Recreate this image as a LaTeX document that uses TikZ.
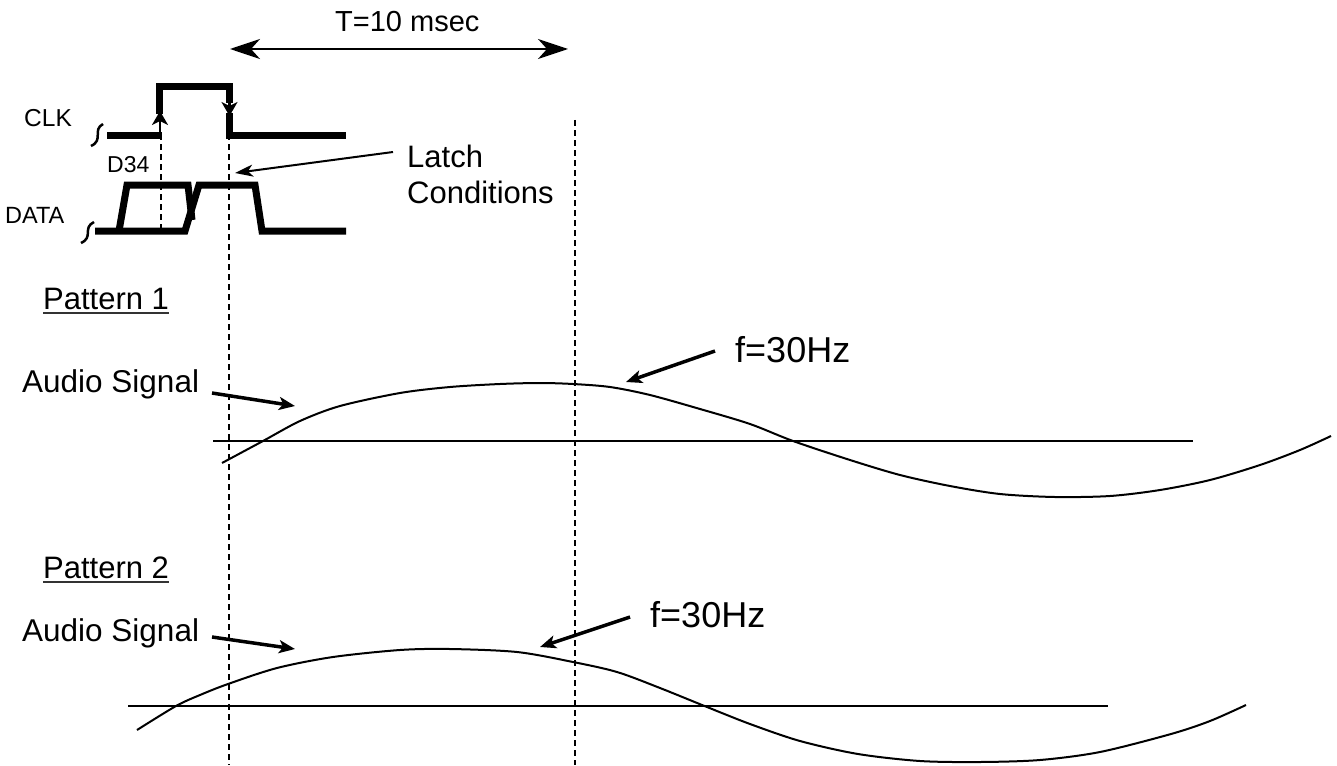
\documentclass[tikz,border=0pt]{standalone}
\usepackage{fontspec}
\setmainfont{Liberation Sans}
\usetikzlibrary{arrows.meta}
\begin{document}
\begin{tikzpicture}[x=1pt,y=-1pt,
  lbl/.style={inner sep=0pt,anchor=base west},
  clkline/.style={line width=7pt},
  dataline/.style={line width=7pt},
  squig/.style={line width=2.5pt},
  edgearr/.style={line width=2.5pt,-{Stealth[length=14pt,width=16pt,inset=4pt]}},
  guide/.style={line width=1.3pt,dash pattern=on 6pt off 4pt},
  tarr/.style={line width=2pt,{Stealth[length=30pt,width=20pt,inset=9pt]}-{Stealth[length=30pt,width=20pt,inset=9pt]}},
  thinarr/.style={line width=2pt,-{Stealth[length=18pt,width=12pt,inset=5pt]}},
  bigarr/.style={line width=3.5pt,-{Stealth[length=16pt,width=13pt,inset=4pt]}},
  axisline/.style={line width=2pt},
  wave/.style={line width=2pt},
  underl/.style={line width=1.5pt,black!80}
]
\useasboundingbox (0,0) rectangle (1337,765);

% ---- labels ----
\node[lbl,font=\fontsize{29}{34}\selectfont] (T) at (335,32) {T=10 msec};
\node[lbl,font=\fontsize{24.5}{28}\selectfont] (clk) at (24,126) {CLK};
\node[lbl,font=\fontsize{23}{26}\selectfont] (d34) at (107,172) {D34};
\node[lbl,font=\fontsize{23.5}{28}\selectfont] (data) at (5,223) {DATA};
\node[inner sep=0pt,anchor=north west,align=left,font=\fontsize{31}{36}\selectfont] (latch) at (407,145) {Latch\\Conditions};
\node[lbl,font=\fontsize{31}{36}\selectfont] (p1) at (43,309) {Pattern 1};
\node[lbl,font=\fontsize{31.5}{36}\selectfont] (a1) at (22,392) {Audio Signal};
\node[lbl,font=\fontsize{36}{40}\selectfont] (f1) at (735,362) {f=30Hz};
\node[lbl,font=\fontsize{31}{36}\selectfont] (p2) at (43,578) {Pattern 2};
\node[lbl,font=\fontsize{31.5}{36}\selectfont] (a2) at (22,641) {Audio Signal};
\node[lbl,font=\fontsize{36}{40}\selectfont] (f2) at (650,627) {f=30Hz};

\draw[underl] ([yshift=-4pt]p1.base west) -- ([yshift=-4pt]p1.base east);
\draw[underl] ([yshift=-4pt]p2.base west) -- ([yshift=-4pt]p2.base east);

% ---- coordinates for arrow ends ----
\coordinate (tl) at (230,49);
\coordinate (tr) at (568,49);
\coordinate (latchfrom) at (393,152);
\coordinate (latchtip) at (235,173);
\coordinate (a1from) at (212,393);
\coordinate (a1tip) at (295,406);
\coordinate (a2from) at (212,637);
\coordinate (a2tip) at (295,649);
\coordinate (f1from) at (715,351);
\coordinate (f1tip) at (626,382);
\coordinate (f2from) at (630,617);
\coordinate (f2tip) at (540,647);

% ---- dashed guides ----
\coordinate (g1t) at (161,134); \coordinate (g1b) at (161,231);
\coordinate (g2t) at (229,134); \coordinate (g2b) at (229,765);
\coordinate (g3t) at (575,120); \coordinate (g3b) at (575,765);
\draw[guide] (g1t) -- (g1b);
\draw[guide] (g2t) -- (g2b);
\draw[guide] (g3t) -- (g3b);

% ---- CLK waveform ----
\draw[squig] (91,146) .. controls (104,140) and (92,130) .. (103,124);
\draw[clkline] (107,135) -- (162,135);
\draw[clkline] (159,114) -- (159,87) -- (229.5,87) -- (229.5,103);
\draw[clkline] (229.5,113) -- (229.5,135) -- (346,135);
\draw[edgearr] (160,135) -- (160,111);
\draw[edgearr] (229.5,98) -- (229.5,116);

% ---- DATA waveform ----
\draw[squig] (81,243) .. controls (94,237) and (82,228) .. (94,222);
\draw[dataline] (95,231) -- (185,231) -- (199,185) -- (255,185) -- (262,231) -- (346,231);
\draw[dataline] (119,231) -- (127,185) -- (188,185) -- (192,220);

% ---- arrows ----
\draw[tarr] (tl) -- (tr);
\draw[thinarr] (latchfrom) -- (latchtip);
\draw[bigarr] (a1from) -- (a1tip);
\draw[bigarr] (a2from) -- (a2tip);
\draw[bigarr] (f1from) -- (f1tip);
\draw[bigarr] (f2from) -- (f2tip);

% ---- pattern 1 ----
\draw[axisline] (213,441) -- (1193,441);
\draw[wave] plot[smooth] coordinates {(222,463) (263,441) (300,421) (340,406) (400,393) (450,387) (500,384) (540,383) (573,384) (610,387) (650,395) (700,409) (750,424) (793,441) (850,460) (900,475) (950,486) (1000,494) (1055,497) (1110,496) (1160,490) (1210,480) (1260,465) (1300,450) (1331,436)};

% ---- pattern 2 ----
\draw[axisline] (128,706) -- (1108,706);
\draw[wave] plot[smooth] coordinates {(137,730) (176,706) (200,695) (228,684) (277,668) (333,657) (400,650) (450,649) (517,652) (573,662) (617,672) (660,688) (707,707) (750,724) (800,741) (858,754) (920,761) (980,762) (1040,760) (1100,752) (1171,734) (1210,721) (1246,705)};
\end{tikzpicture}
\end{document}
